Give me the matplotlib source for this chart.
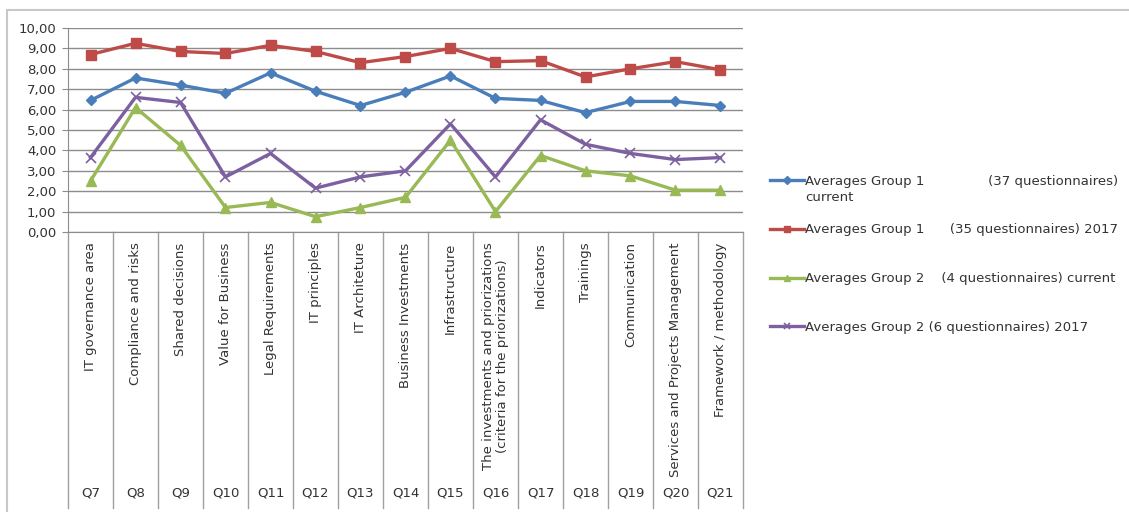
import matplotlib
matplotlib.use("Agg")
import matplotlib.pyplot as plt
from matplotlib.patches import Rectangle
from matplotlib.ticker import FuncFormatter

categories = ["IT governance area", "Compliance and risks", "Shared decisions",
              "Value for Business", "Legal Requirements", "IT principles",
              "IT Architeture", "Business Investments", "Infrastructure",
              "The investments and priorizations\n(criteria for the priorizations)",
              "Indicators", "Trainings", "Communication",
              "Services and Projects Management", "Framework / methodology"]
qcodes = ["Q7", "Q8", "Q9", "Q10", "Q11", "Q12", "Q13", "Q14", "Q15",
          "Q16", "Q17", "Q18", "Q19", "Q20", "Q21"]

g1_current = [6.45, 7.55, 7.2, 6.8, 7.8, 6.9, 6.2, 6.85, 7.65, 6.55, 6.45, 5.85, 6.4, 6.4, 6.2]
g1_2017 = [8.7, 9.25, 8.85, 8.75, 9.15, 8.85, 8.3, 8.6, 9.0, 8.35, 8.4, 7.6, 8.0, 8.35, 7.95]
g2_current = [2.5, 6.1, 4.25, 1.2, 1.45, 0.75, 1.2, 1.7, 4.5, 1.0, 3.75, 3.0, 2.75, 2.05, 2.05]
g2_2017 = [3.65, 6.6, 6.35, 2.7, 3.85, 2.15, 2.7, 3.0, 5.3, 2.7, 5.5, 4.3, 3.85, 3.55, 3.65]

labels = ["Averages Group 1" + " " * 15 + "(37 questionnaires)",
          "Averages Group 1" + " " * 6 + "(35 questionnaires) 2017",
          "Averages Group 2" + " " * 4 + "(4 questionnaires) current",
          "Averages Group 2 (6 questionnaires) 2017"]
label1_cont = "current"

W, H = 1129, 512
fig = plt.figure(figsize=(W / 100, H / 100), dpi=100)
fig.patch.set_facecolor("white")
TXT = "#333333"

# outer chart border
fig.patches.append(Rectangle((7 / W, -0.05), 1.2, 1 - 10 / H + 0.05,
                             transform=fig.transFigure, fill=False,
                             edgecolor="#c8c8c8", linewidth=1.5))

ax = fig.add_axes([68 / W, 1 - 232 / H, 675 / W, 204 / H])
x = list(range(len(categories)))

ax.plot(x, g1_current, color="#4A7EBB", lw=2.4, marker="D", ms=5.5, label=labels[0], zorder=4)
ax.plot(x, g1_2017, color="#BE4B48", lw=2.4, marker="s", ms=7, label=labels[1], zorder=4)
ax.plot(x, g2_current, color="#98B954", lw=2.4, marker="^", ms=6.5, label=labels[2], zorder=4)
ax.plot(x, g2_2017, color="#7D60A0", lw=2.4, marker="x", ms=7, mew=1.2, label=labels[3], zorder=4)

ax.set_xlim(-0.5, len(categories) - 0.5)
ax.set_ylim(0, 10)
ax.set_yticks(range(0, 11))
ax.yaxis.set_major_formatter(FuncFormatter(lambda v, p: f"{v:.2f}".replace(".", ",")))
ax.grid(axis="y", color="#8c8c8c", lw=1.0)
ax.set_axisbelow(True)
ax.set_xticks([])
for s in ["top", "right"]:
    ax.spines[s].set_visible(False)
for s in ["left", "bottom"]:
    ax.spines[s].set_color("#8c8c8c")
ax.tick_params(axis="y", length=4, color="#8c8c8c", labelsize=9.5, labelcolor=TXT, pad=4.5)

# category separators (multi-level axis)
bottom_frac = -(508 - 232) / 204
xt = ax.get_xaxis_transform()
for k in range(len(categories) + 1):
    ax.plot([k - 0.5, k - 0.5], [0, bottom_frac], transform=xt, color="#a0a0a0",
            lw=1.0, clip_on=False)

for i, (c, q) in enumerate(zip(categories, qcodes)):
    ax.annotate(c, xy=(i, 0), xycoords=xt, xytext=(0, -7.5), textcoords="offset points",
                rotation=90, ha="center", va="top", fontsize=9.5, color=TXT,
                multialignment="center", linespacing=1.1)
    ax.annotate(q, xy=(i, 0), xycoords=xt, xytext=(0, -(493 - 232) / 1.389),
                textcoords="offset points", ha="center", va="center",
                fontsize=9.5, color=TXT)

leg = fig.legend(loc="upper left", bbox_to_anchor=(758 / W, 1 - 163 / H),
                 frameon=False, fontsize=9.5, handlelength=2.6, handletextpad=0.05,
                 labelspacing=2.7, labelcolor=TXT, markerscale=0.7)

fig.canvas.draw()
bb = leg.get_texts()[0].get_window_extent()
fig.text(bb.x0 / W, (bb.y0 - 3) / H, label1_cont, ha="left", va="top",
         fontsize=9.5, color=TXT)

fig.savefig("out.png", dpi=100, facecolor="white")
